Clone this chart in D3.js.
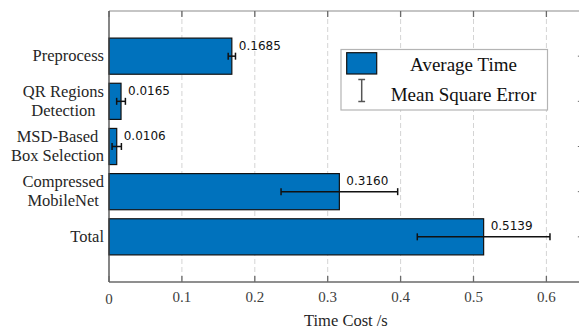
<!DOCTYPE html>
<html lang="en">
	<head>
		<meta charset="utf-8">
		<title>Time cost per stage</title>
		<script type="text/javascript" src="https://cdn.jsdelivr.net/npm/d3@7"></script>
		<style type="text/css">
			body { margin: 0; background: #fff; }
		</style>
	</head>
	<body>
		<script type="text/javascript">

			//Data
			var categories = [ ["Preprocess"],
							   ["QR Regions", "Detection"],
							   ["MSD-Based", "Box Selection"],
							   ["Compressed", "MobileNet"],
							   ["Total"] ];
			var avgTime = [0.1685, 0.0165, 0.0106, 0.3160, 0.5139];
			var mse = [0.005, 0.006, 0.0064, 0.080, 0.091];
			var valueLabels = ["0.1685", "0.0165", "0.0106", "0.3160", "0.5139"];
			var xTicks = [0, 0.1, 0.2, 0.3, 0.4, 0.5, 0.6];
			var legendLabels = ["Average Time", "Mean Square Error"];

			//Size and plot box (no "top" name: it is window.top)
			var w = 579;
			var h = 330;
			var plotLeft = 109, plotTop = 11, plotBottom = 282;
			var barColor = "#0072BD";
			var serif = "'Liberation Serif', 'Times New Roman', serif";

			var svg = d3.select("body")
						.append("svg")
						.attr("width", w)
						.attr("height", h);

			//Scales: x 0..0.65, y positions 0..6 with bars on 1..5
			var xScale = d3.scaleLinear()
							.domain([0, 0.65])
							.range([plotLeft, plotLeft + 0.65 * 729]);
			var plotRight = xScale(0.65);

			var yScale = d3.scaleLinear()
							.domain([0, 6])
							.range([plotTop, plotBottom]);
			var barH = yScale(0.8) - yScale(0);

			//Dashed grid lines
			svg.selectAll("line.grid")
			   .data(xTicks.slice(1))
			   .enter()
			   .append("line")
			   .attr("class", "grid")
			   .attr("x1", function(d) { return xScale(d); })
			   .attr("x2", function(d) { return xScale(d); })
			   .attr("y1", plotTop)
			   .attr("y2", plotBottom)
			   .attr("stroke", "#d4d4d4")
			   .attr("stroke-width", 1)
			   .attr("stroke-dasharray", "5,3");

			//Bars
			svg.selectAll("rect.bar")
			   .data(avgTime)
			   .enter()
			   .append("rect")
			   .attr("class", "bar")
			   .attr("x", xScale(0))
			   .attr("y", function(d, i) { return yScale(i + 1) - barH / 2; })
			   .attr("width", function(d) { return xScale(d) - xScale(0); })
			   .attr("height", barH)
			   .attr("fill", barColor)
			   .attr("stroke", "#111")
			   .attr("stroke-width", 1.2);

			//Error bars
			var err = svg.selectAll("g.err")
						 .data(avgTime)
						 .enter()
						 .append("g")
						 .attr("class", "err")
						 .attr("stroke", "#111")
						 .attr("stroke-width", 1.5);

			err.append("line")
			   .attr("x1", function(d, i) { return xScale(d - mse[i]); })
			   .attr("x2", function(d, i) { return xScale(d + mse[i]); })
			   .attr("y1", function(d, i) { return yScale(i + 1); })
			   .attr("y2", function(d, i) { return yScale(i + 1); });

			[-1, 1].forEach(function(s) {
				err.append("line")
				   .attr("x1", function(d, i) { return xScale(d + s * mse[i]); })
				   .attr("x2", function(d, i) { return xScale(d + s * mse[i]); })
				   .attr("y1", function(d, i) { return yScale(i + 1) - 3.5; })
				   .attr("y2", function(d, i) { return yScale(i + 1) + 3.5; });
			});

			//Value labels
			svg.selectAll("text.value")
			   .data(avgTime)
			   .enter()
			   .append("text")
			   .attr("class", "value")
			   .text(function(d, i) { return valueLabels[i]; })
			   .attr("x", function(d) { return xScale(d) + 7; })
			   .attr("y", function(d, i) { return yScale(i + 1) - 6.5; })
			   .attr("font-family", "'DejaVu Sans', sans-serif")
			   .attr("font-size", "12px")
			   .attr("fill", "#111");

			//Axes box
			svg.append("line")
			   .attr("x1", plotLeft).attr("x2", plotRight)
			   .attr("y1", plotTop).attr("y2", plotTop)
			   .attr("stroke", "#8c8c8c").attr("stroke-width", 1.2);
			svg.append("line")
			   .attr("x1", plotLeft).attr("x2", plotRight)
			   .attr("y1", plotBottom).attr("y2", plotBottom)
			   .attr("stroke", "#6a6a6a").attr("stroke-width", 1.3);
			svg.append("line")
			   .attr("x1", plotLeft).attr("x2", plotLeft)
			   .attr("y1", plotTop).attr("y2", plotBottom)
			   .attr("stroke", "#444").attr("stroke-width", 1.3);
			svg.append("line")
			   .attr("x1", plotRight).attr("x2", plotRight)
			   .attr("y1", plotTop).attr("y2", plotBottom)
			   .attr("stroke", "#6a6a6a").attr("stroke-width", 1.3);

			//Ticks on top and bottom, pointing inward
			svg.selectAll("line.tickTop")
			   .data(xTicks)
			   .enter()
			   .append("line")
			   .attr("x1", function(d) { return xScale(d); })
			   .attr("x2", function(d) { return xScale(d); })
			   .attr("y1", plotTop)
			   .attr("y2", plotTop + 6)
			   .attr("stroke", "#6a6a6a").attr("stroke-width", 1.3);
			svg.selectAll("line.tickBottom")
			   .data(xTicks)
			   .enter()
			   .append("line")
			   .attr("x1", function(d) { return xScale(d); })
			   .attr("x2", function(d) { return xScale(d); })
			   .attr("y1", plotBottom)
			   .attr("y2", plotBottom - 6)
			   .attr("stroke", "#6a6a6a").attr("stroke-width", 1.3);
			svg.selectAll("line.tickRight")
			   .data(avgTime)
			   .enter()
			   .append("line")
			   .attr("x1", plotRight)
			   .attr("x2", plotRight - 5)
			   .attr("y1", function(d, i) { return yScale(i + 1); })
			   .attr("y2", function(d, i) { return yScale(i + 1); })
			   .attr("stroke", "#6a6a6a").attr("stroke-width", 1);

			//X tick labels
			svg.selectAll("text.xtick")
			   .data(xTicks)
			   .enter()
			   .append("text")
			   .text(function(d) { return d === 0 ? "0" : d3.format(".1f")(d); })
			   .attr("x", function(d) { return xScale(d); })
			   .attr("y", function(d) { return d === 0 ? 303.5 : 301.5; })
			   .attr("text-anchor", "middle")
			   .attr("font-family", serif)
			   .attr("font-size", "15px")
			   .attr("fill", "#404040");

			//X axis title
			svg.append("text")
			   .text("Time Cost /s")
			   .attr("x", (plotLeft + plotRight) / 2)
			   .attr("y", 326)
			   .attr("text-anchor", "middle")
			   .attr("font-family", serif)
			   .attr("font-size", "16.5px")
			   .attr("fill", "#262626");

			//Category labels: block right aligned, lines centred
			var labelRight = 104;
			categories.forEach(function(lines, i) {
				var g = svg.append("g");
				var texts = lines.map(function(s, j) {
					return g.append("text")
							.text(s)
							.attr("y", yScale(i + 1) + 5 - (lines.length - 1) * 9.6 + j * 19.1)
							.attr("text-anchor", "middle")
							.attr("font-family", serif)
							.attr("font-size", "16.5px")
							.attr("fill", "#262626");
				});
				var bw = d3.max(texts, function(t) { return t.node().getComputedTextLength(); });
				texts.forEach(function(t) { t.attr("x", labelRight - bw / 2); });
			});

			//Legend
			var lg = svg.append("g");
			lg.append("rect")
			  .attr("x", 341).attr("y", 49.5)
			  .attr("width", 206.5).attr("height", 60.5)
			  .attr("fill", "#fff")
			  .attr("stroke", "#b4b4b4").attr("stroke-width", 1.2);
			lg.append("rect")
			  .attr("x", 346.7).attr("y", 52.7)
			  .attr("width", 30).attr("height", 21.3)
			  .attr("fill", barColor)
			  .attr("stroke", "#111").attr("stroke-width", 1.2);
			lg.append("line")
			  .attr("x1", 361.7).attr("x2", 361.7)
			  .attr("y1", 79.5).attr("y2", 101.5)
			  .attr("stroke", "#555").attr("stroke-width", 1.5);
			[79.5, 101.5].forEach(function(yy) {
				lg.append("line")
				  .attr("x1", 358.3).attr("x2", 365.1)
				  .attr("y1", yy).attr("y2", yy)
				  .attr("stroke", "#555").attr("stroke-width", 1.5);
			});
			lg.selectAll("text")
			  .data(legendLabels)
			  .enter()
			  .append("text")
			  .text(function(d) { return d; })
			  .attr("x", 463.5)
			  .attr("y", function(d, i) { return 71 + i * 30; })
			  .attr("text-anchor", "middle")
			  .attr("font-family", serif)
			  .attr("font-size", "19px")
			  .attr("fill", "#111");

		</script>
	</body>
</html>
